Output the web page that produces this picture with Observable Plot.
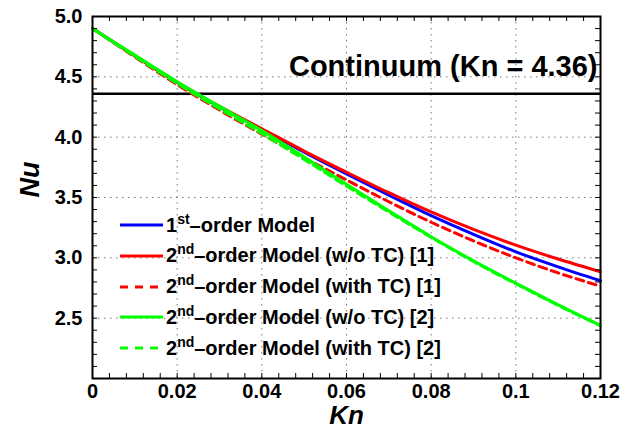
<!DOCTYPE html>
<html>
<head>
<meta charset="utf-8">
<script src="https://cdn.jsdelivr.net/npm/d3@7"></script>
<script src="https://cdn.jsdelivr.net/npm/@observablehq/plot@0.6"></script>
<style>
  body { margin: 0; background: white; }
  #wrap { position: relative; width: 634px; height: 432px; font-family: 'Liberation Sans', Arial, sans-serif; }
  #legend { position: absolute; left: 0; top: 0; }
  .row { position: absolute; left: 120px; height: 24px; display: flex; align-items: center; white-space: nowrap; font-weight: bold; font-size: 20px; color: #000; }
  .row svg { margin-right: 2px; }
  .sup { font-size: 14px; position: relative; top: -8px; }
</style>
</head>
<body>
<div id="wrap"></div>
<script>
// ---- data ----
const kn = [0, 0.01, 0.02, 0.03, 0.04, 0.05, 0.06, 0.07, 0.08, 0.09, 0.10, 0.11, 0.12];
const nuFirstOrder   = [4.90, 4.675, 4.455, 4.25, 4.065, 3.875, 3.695, 3.52, 3.35, 3.195, 3.05, 2.925, 2.81];
const nuSecondNoTC1  = [4.90, 4.675, 4.455, 4.255, 4.07, 3.885, 3.71, 3.54, 3.38, 3.235, 3.105, 2.99, 2.885];
const nuSecondTC1    = [4.90, 4.665, 4.435, 4.225, 4.025, 3.83, 3.645, 3.465, 3.295, 3.14, 3.0, 2.875, 2.765];
const nuSecondNoTC2  = [4.90, 4.68, 4.46, 4.255, 4.055, 3.835, 3.61, 3.39, 3.175, 2.975, 2.79, 2.61, 2.44];
const nuSecondTC2    = [4.90, 4.67, 4.445, 4.235, 4.03, 3.815, 3.595, 3.38, 3.17, 2.97, 2.785, 2.607, 2.437];
const continuumNu = 4.36;
const continuumLabel = "Continuum (Kn = 4.36)";
const xTicks = [0, 0.02, 0.04, 0.06, 0.08, 0.10, 0.12];
const yTicks = [2.5, 3.0, 3.5, 4.0, 4.5, 5.0];
const seriesNames = [
  ["1", "st", "–order Model"],
  ["2", "nd", "–order Model (w/o TC) [1]"],
  ["2", "nd", "–order Model (with TC) [1]"],
  ["2", "nd", "–order Model (w/o TC) [2]"],
  ["2", "nd", "–order Model (with TC) [2]"]
];
const seriesValues = [nuFirstOrder, nuSecondNoTC1, nuSecondTC1, nuSecondNoTC2, nuSecondTC2];
const seriesColors = ["#0000ff", "#ff0000", "#ff0000", "#00ff00", "#00ff00"];
const seriesDashed = [false, false, true, false, true];

// ---- build ----
const xDomain = [0, 0.12], yDomain = [2, 5];
const tickLenX = 5 * (xDomain[1] - xDomain[0]) / 508;
const tickLenY = 5 * (yDomain[1] - yDomain[0]) / 362;
const xMinor = d3.range(0, 0.12 + 1e-9, 0.004);
const yMinor = d3.range(2, 5 + 1e-9, 0.1);
const xGrid = xTicks.slice(1, -1);
const yGrid = yTicks.slice(0, -1);

const lineMarks = seriesValues.map((vals, i) => {
  const rows = kn.map((k, j) => ({k, v: vals[j]}));
  return Plot.line(rows, {x: "k", y: "v", stroke: seriesColors[i], strokeWidth: 3,
    strokeDasharray: seriesDashed[i] ? "8,5" : null, curve: "monotone-x"});
});

const gridStyle = {stroke: "#777", strokeWidth: 1, strokeDasharray: "1.5,4.5"};

const chart = Plot.plot({
  width: 634, height: 432,
  marginTop: 16, marginRight: 34, marginBottom: 54, marginLeft: 92,
  x: {domain: xDomain},
  y: {domain: yDomain},
  style: {fontFamily: "'Liberation Sans', Arial, sans-serif", fontSize: "20px", fontWeight: "bold", color: "black", background: "white"},
  marks: [
    Plot.ruleX(xGrid, gridStyle),
    Plot.ruleY(yGrid, gridStyle),
    Plot.ruleY([continuumNu], {stroke: "black", strokeWidth: 2.5}),
    ...lineMarks,
    Plot.ruleX(xMinor, {y1: yDomain[0], y2: yDomain[0] + tickLenY, stroke: "black", strokeWidth: 1}),
    Plot.ruleX(xMinor, {y1: yDomain[1] - tickLenY, y2: yDomain[1], stroke: "black", strokeWidth: 1}),
    Plot.ruleY(yMinor, {x1: xDomain[0], x2: xDomain[0] + tickLenX, stroke: "black", strokeWidth: 1}),
    Plot.ruleY(yMinor, {x1: xDomain[1] - tickLenX, x2: xDomain[1], stroke: "black", strokeWidth: 1}),
    Plot.frame({stroke: "black", strokeWidth: 2}),
    Plot.axisX({ticks: xTicks, tickSize: 0, tickPadding: 5, label: null, tickFormat: d => String(+d.toFixed(2))}),
    Plot.axisY({ticks: yTicks, tickSize: 0, tickPadding: 10, label: null, tickFormat: d => d.toFixed(1)}),
    Plot.text(["Nu"], {text: d => d, frameAnchor: "left", dx: -62, rotate: -90, fontSize: 27, fontStyle: "italic", fontWeight: "bold"}),
    Plot.text(["Kn"], {text: d => d, frameAnchor: "bottom", dy: 45, fontSize: 26, fontStyle: "italic", fontWeight: "bold"}),
    Plot.text([continuumLabel], {text: d => d, x: () => xDomain[1], y: () => continuumNu, textAnchor: "end", dx: -3, dy: -27, fontSize: 29, fontWeight: "bold"})
  ]
});

const wrap = document.getElementById("wrap");
wrap.appendChild(chart);

// ---- legend (inside plot, lower left) ----
const legend = document.createElement("div");
legend.id = "legend";
seriesNames.forEach((parts, i) => {
  const row = document.createElement("div");
  row.className = "row";
  row.style.top = (213 + i * 30.8) + "px";
  const dash = seriesDashed[i] ? 'stroke-dasharray="8,7"' : "";
  row.innerHTML = `<svg width="44" height="10"><line x1="0" y1="5" x2="43" y2="5" stroke="${seriesColors[i]}" stroke-width="3" ${dash}/></svg>` +
    `<span>${parts[0]}<span class="sup">${parts[1]}</span>${parts[2]}</span>`;
  legend.appendChild(row);
});
wrap.appendChild(legend);
</script>
</body>
</html>
